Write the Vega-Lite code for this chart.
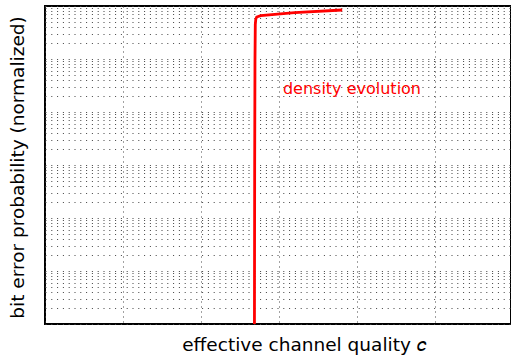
{
  "$schema": "https://vega.github.io/schema/vega-lite/v6.json",
  "width": 466,
  "height": 318,
  "autosize": {"type": "none"},
  "padding": {"left": 45, "top": 6, "right": 0, "bottom": 31},
  "background": "white",
  "config": {
    "view": {"stroke": "#000", "strokeWidth": 2},
    "font": "DejaVu Sans"
  },
  "datasets": {
    "curve": [
      {"c": 2.685, "p": 0.000001},
      {"c": 2.688, "p": 0.001},
      {"c": 2.692, "p": 0.1},
      {"c": 2.696, "p": 0.45},
      {"c": 2.702, "p": 0.56},
      {"c": 2.714, "p": 0.62},
      {"c": 2.765, "p": 0.66},
      {"c": 3.2, "p": 0.75},
      {"c": 3.81, "p": 0.84}
    ],
    "label": [
      {"c": 3.05, "p": 0.027, "text": "density evolution"}
    ]
  },
  "layer": [
    {
      "data": {"name": "curve"},
      "mark": {"type": "line", "color": "#ff0000", "strokeWidth": 2.8, "clip": true},
      "encoding": {
        "x": {
          "field": "c", "type": "quantitative",
          "scale": {"domain": [0, 5.974], "nice": false, "zero": false},
          "axis": {
            "values": [0, 1, 2, 3, 4, 5],
            "labels": false, "ticks": false, "domain": false,
            "grid": true, "gridColor": "#444", "gridDash": [1, 4], "gridWidth": 1,
            "title": "effective channel quality 𝑐",
            "titleFont": "DejaVu Sans", "titleFontSize": 18.5, "titleFontWeight": "normal",
            "titleColor": "#000",
            "titleX": 259, "titleY": 26, "titleBaseline": "alphabetic", "titleAlign": "center"
          }
        },
        "y": {
          "field": "p", "type": "quantitative",
          "scale": {"type": "log", "domain": [0.000001, 1], "nice": false},
          "axis": {
            "values": [0.000001, 0.000002, 0.000003, 0.000004, 0.000005, 0.000006, 0.000007, 0.000008, 0.000009,
                       0.00001, 0.00002, 0.00003, 0.00004, 0.00005, 0.00006, 0.00007, 0.00008, 0.00009,
                       0.0001, 0.0002, 0.0003, 0.0004, 0.0005, 0.0006, 0.0007, 0.0008, 0.0009,
                       0.001, 0.002, 0.003, 0.004, 0.005, 0.006, 0.007, 0.008, 0.009,
                       0.01, 0.02, 0.03, 0.04, 0.05, 0.06, 0.07, 0.08, 0.09,
                       0.1, 0.2, 0.3, 0.4, 0.5, 0.6, 0.7, 0.8, 0.9, 1],
            "labels": false, "ticks": false, "domain": false,
            "grid": true, "gridColor": "#444", "gridDash": [1, 4.8], "gridWidth": 1,
            "title": "bit error probability (normalized)",
            "titleFont": "DejaVu Sans", "titleFontSize": 18.5, "titleFontWeight": "normal",
            "titleColor": "#000",
            "titleAngle": -90, "titleX": -28, "titleY": 161,
            "titleBaseline": "middle", "titleAlign": "center"
          }
        }
      }
    },
    {
      "data": {"name": "label"},
      "mark": {"type": "text", "color": "#ff0000", "fontSize": 16, "font": "DejaVu Sans", "align": "left", "baseline": "middle"},
      "encoding": {
        "x": {"field": "c", "type": "quantitative"},
        "y": {"field": "p", "type": "quantitative"},
        "text": {"field": "text"}
      }
    }
  ]
}
